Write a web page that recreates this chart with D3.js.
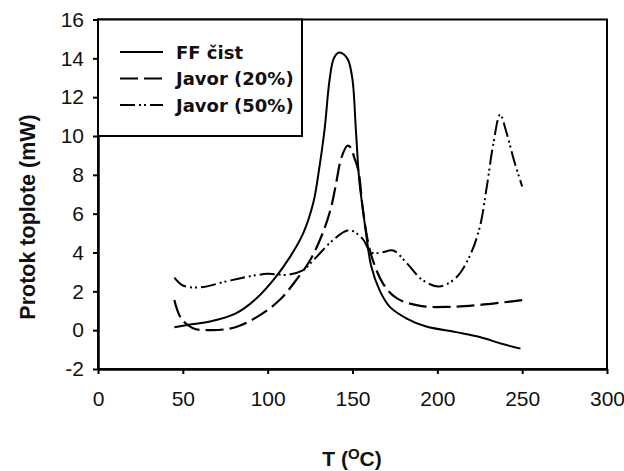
<!DOCTYPE html>
<html>
<head>
<meta charset="utf-8">
<script src="https://cdn.jsdelivr.net/npm/d3@7"></script>
<style>
  body { margin: 0; background: #fff; }
  svg { display: block; }
</style>
</head>
<body>
<div id="vis"></div>
<script>

var width = 624,
  height = 471

// Data
var xTicks = [ 0, 50, 100, 150, 200, 250, 300 ];
var yTicks = [ -2, 0, 2, 4, 6, 8, 10, 12, 14, 16 ];

var seriesNames = [ 'FF čist', 'Javor (20%)', 'Javor (50%)' ];

var ffT = [ 45, 55, 66, 81, 93, 104, 113, 121, 127, 130, 133.5, 136.5, 139, 142, 145, 147.5, 150, 152, 154, 156, 158, 161, 166, 172, 182, 193, 211, 225, 238, 249 ];
var ffQ = [ 0.15, 0.3, 0.45, 0.85, 1.6, 2.65, 3.75, 5.0, 6.6, 8.1, 10.3, 12.9, 14.0, 14.3, 14.2, 13.9, 12.9, 10.3, 7.7, 6.3, 5.0, 3.3, 2.05, 1.2, 0.6, 0.2, -0.1, -0.35, -0.7, -0.95 ];

var j20T = [ 45, 49, 56, 67, 81, 95, 107, 117, 125, 132, 137, 140, 143.5, 147, 149, 151, 153.5, 156, 159, 162, 168, 176, 190, 207, 225, 250 ];
var j20Q = [ 1.55, 0.6, 0.1, 0.0, 0.15, 0.75, 1.55, 2.6, 3.6, 4.9, 6.2, 7.4, 8.9, 9.5, 9.4, 8.9, 8.2, 6.3, 4.6, 3.6, 2.4, 1.65, 1.25, 1.2, 1.3, 1.55 ];

var j50T = [ 45, 50, 60, 75, 88, 100, 111, 120, 128, 138, 148, 156, 161, 167, 174, 182, 191, 201, 211, 219, 225, 229, 233, 237, 241, 245, 250 ];
var j50Q = [ 2.7, 2.3, 2.2, 2.5, 2.75, 2.9, 2.85, 3.05, 3.7, 4.6, 5.15, 4.7, 4.0, 4.0, 4.1, 3.45, 2.6, 2.25, 2.7, 3.8, 5.3, 7.3, 9.6, 11.1, 10.1, 8.8, 7.4 ];

var series = [
  { name: seriesNames[ 0 ], t: ffT, q: ffQ, dash: null, w: 2 },
  { name: seriesNames[ 1 ], t: j20T, q: j20Q, dash: '18,6', w: 2.2 },
  { name: seriesNames[ 2 ], t: j50T, q: j50Q, dash: '15,4,2,3,2,4', w: 2 }
];

/* Scales */

var x = d3.scaleLinear()
  .domain( [ 0, 300 ] )
  .range( [ 98, 607 ] );

var y = d3.scaleLinear()
  .domain( [ -2, 16 ] )
  .range( [ 369, 19.5 ] );

var line = d3.line()
  .x( d => x( d[ 0 ] ) )
  .y( d => y( d[ 1 ] ) )
  .curve( d3.curveCatmullRom.alpha( 0.5 ) );

/* Drawing */

var svg = d3.select( '#vis' ).append( 'svg' )
  .attr( 'width', width )
  .attr( 'height', height );

// frame
svg.append( 'rect' )
  .attr( 'x', x( 0 ) )
  .attr( 'y', y( 16 ) )
  .attr( 'width', x( 300 ) - x( 0 ) )
  .attr( 'height', y( -2 ) - y( 16 ) )
  .attr( 'fill', 'none' )
  .attr( 'stroke', '#000' )
  .attr( 'stroke-width', 2 );

// axes
var yAxis = svg.append( 'g' )
  .attr( 'transform', 'translate(' + x( 0 ) + ',0)' )
  .call( d3.axisLeft( y ).tickValues( yTicks ).tickFormat( d => String( d ) )
    .tickSize( 5 ).tickSizeOuter( 0 ).tickPadding( 9 ) );

var xAxis = svg.append( 'g' )
  .attr( 'transform', 'translate(0,' + y( -2 ) + ')' )
  .call( d3.axisBottom( x ).tickValues( xTicks ).tickFormat( d => String( d ) )
    .tickSize( 5 ).tickSizeOuter( 0 ).tickPadding( 17 ) );

[ yAxis, xAxis ].forEach( a => {
  a.select( '.domain' ).attr( 'stroke-width', 2.5 );
  a.selectAll( '.tick line' ).attr( 'stroke-width', 2 );
  a.selectAll( '.tick text' )
    .attr( 'fill', '#111' )
    .style( 'font-family', '"Liberation Sans", Arial, sans-serif' )
    .style( 'font-size', '21px' );
} );

// legend
var legend = svg.append( 'g' );

legend.append( 'rect' )
  .attr( 'x', x( 0 ) )
  .attr( 'y', y( 16 ) )
  .attr( 'width', 204 )
  .attr( 'height', y( 10 ) - y( 16 ) )
  .attr( 'fill', '#fff' )
  .attr( 'stroke', '#000' )
  .attr( 'stroke-width', 2 );

series.forEach( ( s, i ) => {
  var ly = 52 + i * 26.5;
  legend.append( 'line' )
    .attr( 'x1', 120 )
    .attr( 'x2', 163 )
    .attr( 'y1', ly )
    .attr( 'y2', ly )
    .attr( 'stroke', '#000' )
    .attr( 'stroke-width', s.w )
    .attr( 'stroke-dasharray', s.dash );
  legend.append( 'text' )
    .attr( 'x', 176 )
    .attr( 'y', ly + 6.5 )
    .attr( 'fill', '#111' )
    .style( 'font-family', '"DejaVu Sans", Verdana, sans-serif' )
    .style( 'font-weight', 'bold' )
    .style( 'font-size', '18px' )
    .text( s.name );
} );

// curves
svg.selectAll( 'path.curve' )
  .data( series )
  .enter().append( 'path' )
    .attr( 'class', 'curve' )
    .attr( 'd', s => line( s.t.map( ( t, i ) => [ t, s.q[ i ] ] ) ) )
    .attr( 'fill', 'none' )
    .attr( 'stroke', '#000' )
    .attr( 'stroke-width', s => s.w )
    .attr( 'stroke-dasharray', s => s.dash );

// axis titles
svg.append( 'text' )
  .attr( 'transform', 'translate(35,' + 217 + ')rotate(-90)' )
  .attr( 'text-anchor', 'middle' )
  .attr( 'fill', '#111' )
  .style( 'font-family', '"Liberation Sans", Arial, sans-serif' )
  .style( 'font-weight', 'bold' )
  .style( 'font-size', '21.5px' )
  .text( 'Protok toplote (mW)' );

var xt = svg.append( 'text' )
  .attr( 'x', 352 )
  .attr( 'y', 466 )
  .attr( 'text-anchor', 'middle' )
  .attr( 'fill', '#111' )
  .style( 'font-family', '"Liberation Sans", Arial, sans-serif' )
  .style( 'font-weight', 'bold' )
  .style( 'font-size', '21px' );

xt.append( 'tspan' ).text( 'T (' );
xt.append( 'tspan' ).attr( 'dy', -7 ).style( 'font-size', '15px' ).text( 'O' );
xt.append( 'tspan' ).attr( 'dy', 7 ).text( 'C)' );

</script>
</body>
</html>
